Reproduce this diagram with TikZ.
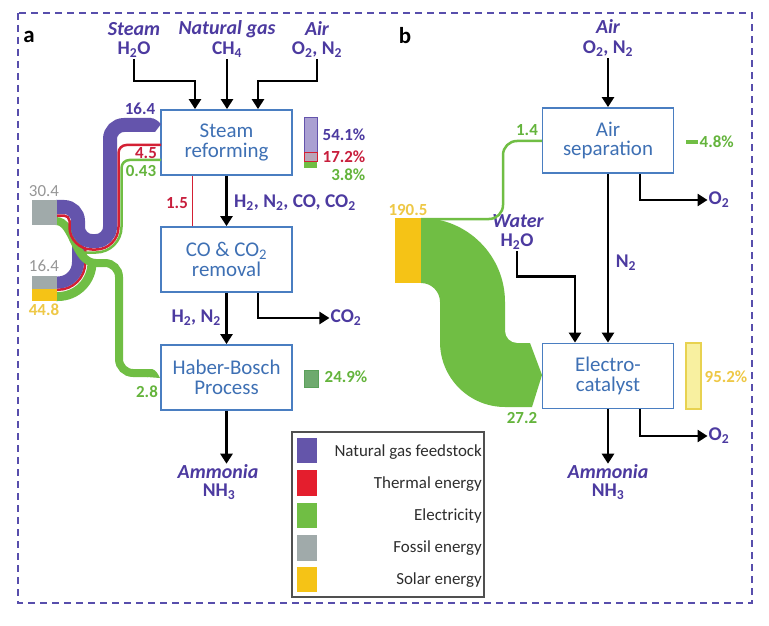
\documentclass[tikz,border=0pt]{standalone}
\usepackage{fontspec}
\setmainfont{Carlito}
\usetikzlibrary{arrows.meta,calc}
\definecolor{hdr}{RGB}{76,58,160}
\definecolor{boxc}{RGB}{74,126,193}
\definecolor{boxt}{RGB}{62,112,180}
\definecolor{purp}{RGB}{100,84,172}
\definecolor{purl}{RGB}{170,160,210}
\definecolor{redc}{RGB}{212,32,52}
\definecolor{redt}{RGB}{200,30,60}
\definecolor{redf}{RGB}{185,165,185}
\definecolor{grn}{RGB}{112,190,68}
\definecolor{grnt}{RGB}{100,180,60}
\definecolor{grnd}{RGB}{110,170,110}
\definecolor{grnb}{RGB}{90,160,90}
\definecolor{gryc}{RGB}{160,170,170}
\definecolor{gryt}{RGB}{150,150,150}
\definecolor{ylw}{RGB}{245,195,22}
\definecolor{ylwt}{RGB}{238,200,70}
\definecolor{ylwl}{RGB}{248,240,160}
\definecolor{ylwd}{RGB}{232,210,80}
\definecolor{dashc}{RGB}{88,78,172}
\definecolor{legc}{RGB}{80,80,80}
\definecolor{legt}{RGB}{45,45,45}
\definecolor{legp}{RGB}{100,85,170}
\definecolor{legr}{RGB}{228,30,45}
\newcommand{\chs}[1]{\textsubscript{#1}}
\begin{document}
\begin{tikzpicture}[x=1bp,y=-1bp,
  box/.style={draw=boxc, line width=1.8bp, minimum width=131bp, minimum height=65bp, inner sep=0pt,
    text=boxt, align=center, font=\fontsize{21}{20}\selectfont},
  hd/.style={text=hdr, inner sep=1bp, font=\bfseries\itshape\fontsize{20}{20}\selectfont},
  fm/.style={text=hdr, inner sep=1bp, font=\bfseries\fontsize{19.5}{19.5}\selectfont},
  num/.style={inner sep=0.5bp, font=\bfseries\fontsize{17}{17}\selectfont},
  numg/.style={num, text=grnt},
  numr/.style={num, text=redt},
  nump/.style={num, text=hdr},
  numy/.style={num, text=ylwt},
  numgr/.style={inner sep=1bp, text=gryt, font=\fontsize{17}{17}\selectfont},
  arr/.style={line width=2.6bp, -{Triangle[width=12bp,length=10bp]}},
  legtxt/.style={anchor=east, inner sep=0pt, text=legt, font=\fontsize{17}{17}\selectfont},
  panel/.style={inner sep=0pt, font=\bfseries\fontsize{23}{23}\selectfont}
]
\useasboundingbox (0,0) rectangle (769,626);
\fill[white] (0,0) rectangle (769,626);
\draw[dashc, line width=1.8bp, dash pattern=on 7bp off 5bp] (18,13) rectangle (752,603);

\node[panel] (la) at (29,37) {a};
\node[panel] (lb) at (405,36) {b};

%% ---------------- Panel a ----------------
\node[box] (sr) at (226.5,142.5) {Steam\\reforming};
\node[box] (co) at (226.5,259.5) {CO \& CO\chs{2}\\removal};
\node[box] (hb) at (226.5,377.5) {Haber-Bosch\\Process};

\node[hd] (hSteam) at (134,29) {Steam};
\node[fm] (fH2O) at (134,50) {H\chs{2}O};
\node[hd] (hNG) at (227,29) {Natural gas};
\node[fm] (fCH4) at (227,50) {CH\chs{4}};
\node[hd] (hAir) at (317,29) {Air};
\node[fm] (fO2N2) at (317,50) {O\chs{2}, N\chs{2}};

\draw[arr] (fH2O.south) |- ($(sr.north)+(-31.5,-28)$) -- ($(sr.north)+(-31.5,0)$);
\draw[arr] (fCH4.south) -- (fCH4.south |- sr.north);
\draw[arr] (fO2N2.south) |- ($(sr.north)+(31.5,-28)$) -- ($(sr.north)+(31.5,0)$);

\draw[arr] (sr.south) -- (co.north);
\draw[redc, line width=1.5bp] ($(sr.south)+(-34,0)$) -- ($(co.north)+(-34,0)$);
\node[numr] (l15) at (177,203) {1.5};
\node[fm, anchor=west] (gasA) at (233,203) {H\chs{2}, N\chs{2}, CO, CO\chs{2}};

\draw[arr] (co.south) -- (hb.north);
\node[fm, anchor=east] (gasB) at (222,318) {H\chs{2}, N\chs{2}};
\node[fm] (fCO2) at (346,318) {CO\chs{2}};
\draw[arr] ($(co.south)+(31.5,0)$) |- (fCO2.west);

\node[hd] (amA) at (218,472) {Ammonia};
\node[fm] (nhA) at (219,492) {NH\chs{3}};
\draw[arr] (hb.south) -- (hb.south |- amA.north);

% percentage bars, panel a
\draw[purp, fill=purl, line width=1bp] (304,118) rectangle (317,153);
\draw[redc, fill=redf, line width=1bp] (304,153) rectangle (317,162);
\fill[grn] (304,162.5) rectangle (317,168);
\node[nump] (p541) at (344,135) {54.1\%};
\node[numr] (p172) at (344,156.5) {17.2\%};
\node[numg, anchor=east] (p38) at (366,175) {3.8\%};
\draw[grnb, fill=grnd, line width=1bp] (304,370) rectangle (318,387);
\node[numg] (p249) at (346,377) {24.9\%};

% Sankey flows, panel a
% lower bundle
\draw[redc, line width=2.5bp] (56,289.75) -- (58,289.75) arc[start angle=90,end angle=0,radius=27.25] -- (85.25,249);
\draw[purp, line width=12bp] (56,282.5) -- (58,282.5) arc[start angle=90,end angle=0,radius=20] -- (78,236);
\draw[grn, line width=9bp] (56,296.5) -- (58,296.5) arc[start angle=90,end angle=0,radius=34] -- (92,259);
% upper green crossing and pipe to Haber-Bosch
\draw[grn, line width=8bp] (56,221) .. controls (74,221) and (74,263) .. (96,263);
\draw[grn, line width=8bp] (90,263) -- (105,263) arc[start angle=-90,end angle=0,radius=14] -- (119,359) arc[start angle=180,end angle=90,radius=14] -- (148,373);
\fill[grn] (147,369) -- (152,369) .. controls (156,370) and (158,374) .. (160,378) -- (147,377) -- cycle;
% upper bundle
\draw[redc, line width=2.5bp] (56,215.5) -- (64,215.5) arc[start angle=-90,end angle=0,radius=5.5] -- (69.5,227) arc[start angle=180,end angle=90,radius=22.5] -- (96,249.5) arc[start angle=90,end angle=0,radius=22.5] -- (118.5,153) arc[start angle=180,end angle=270,radius=8] -- (161,145);
\draw[grn, line width=2.5bp] (84,252.5) -- (96,252.5) arc[start angle=90,end angle=0,radius=25.5] -- (121.5,168) arc[start angle=180,end angle=270,radius=8] -- (161,160);
\draw[purp, line width=14bp] (56,207) -- (64,207) arc[start angle=-90,end angle=0,radius=14] -- (78,227) arc[start angle=180,end angle=90,radius=14] -- (96,241) arc[start angle=90,end angle=0,radius=14] -- (110,139) arc[start angle=180,end angle=270,radius=14] -- (151,125);
\fill[purp] (150,118) .. controls (155,118) and (158,121) .. (161,124) -- (155,132) -- (150,132) -- cycle;
% source blocks
\fill[gryc] (32,200) rectangle (57,225);
\fill[gryc] (32,276) rectangle (57,289);
\fill[ylw] (32,289) rectangle (57,301);
\node[numgr] (s304) at (44,191) {30.4};
\node[numgr] (s164) at (44,266) {16.4};
\node[numy] (s448) at (44,310) {44.8};
\node[nump] (f164) at (140,109) {16.4};
\node[numr] (f45) at (146,153) {4.5};
\node[numg] (f043) at (141,171) {0.43};
\node[numg] (f28) at (147,392) {2.8};

%% ---------------- Panel b ----------------
\node[box] (as) at (608,140.5) {Air\\separation};
\node[box] (ec) at (608,376) {Electro-\\catalyst};

\node[hd] (hAirB) at (608,27) {Air};
\node[fm] (fO2N2B) at (608,49) {O\chs{2}, N\chs{2}};
\draw[arr] (fO2N2B.south) -- (fO2N2B.south |- as.north);

\draw[arr] (as.south) -- (ec.north);
\node[fm] (lN2) at (626,263) {N\chs{2}};
\node[fm] (o2a) at (719,200) {O\chs{2}};
\draw[arr] ($(as.south)+(32,0)$) |- (o2a.west);

\node[hd] (hW) at (518,221) {Water};
\node[fm] (fW) at (517,242) {H\chs{2}O};
\draw[arr] (fW.south) |- ($(ec.north)+(-33,-66)$) -- ($(ec.north)+(-33,0)$);

\node[hd] (amB) at (608,472) {Ammonia};
\node[fm] (nhB) at (608,492) {NH\chs{3}};
\draw[arr] (ec.south) -- (ec.south |- amB.north);
\node[fm] (o2b) at (719,436) {O\chs{2}};
\draw[arr] ($(ec.south)+(32,0)$) |- (o2b.west);

% Sankey panel b
\fill[grn] (421,218) arc[start angle=-90,end angle=0,radius=84] -- (505,331) arc[start angle=180,end angle=90,radius=12] -- (530,343) -- (542,375) -- (532,407) -- (505,407) arc[start angle=90,end angle=180,radius=65] -- (440,302) arc[start angle=0,end angle=-90,radius=19] -- cycle;
\draw[grn, line width=2.5bp] (421,219) -- (489,219) arc[start angle=90,end angle=0,radius=14] -- (503,155) arc[start angle=180,end angle=270,radius=14] -- (542,141);
\fill[ylw] (395,218) rectangle (421,283);
\node[numy] (s1905) at (408,210) {190.5};
\node[numg] (f14) at (527,130) {1.4};
\node[numg] (f272) at (522,418) {27.2};

\fill[grn] (686,140) rectangle (698,144);
\node[numg, anchor=west] (p48) at (699,142) {4.8\%};
\draw[ylwd, fill=ylwl, line width=1.2bp] (686,343) rectangle (701,409);
\node[numy] (p952) at (726,377) {95.2\%};

%% ---------------- Legend ----------------
\draw[legc, line width=1.3bp] (292,432) rectangle (484,597);
\fill[legp] (297,438) rectangle (317,463);
\fill[legr] (297,470) rectangle (317,496);
\fill[grn] (297,503) rectangle (317,528);
\fill[gryc] (297,535) rectangle (317,561);
\fill[ylw] (297,567) rectangle (317,592);
\node[legtxt] (lg1) at (482,452) {Natural gas feedstock};
\node[legtxt] (lg2) at (482,484) {Thermal energy};
\node[legtxt] (lg3) at (482,516) {Electricity};
\node[legtxt] (lg4) at (482,548) {Fossil energy};
\node[legtxt] (lg5) at (482,580) {Solar energy};
\end{tikzpicture}
\end{document}
